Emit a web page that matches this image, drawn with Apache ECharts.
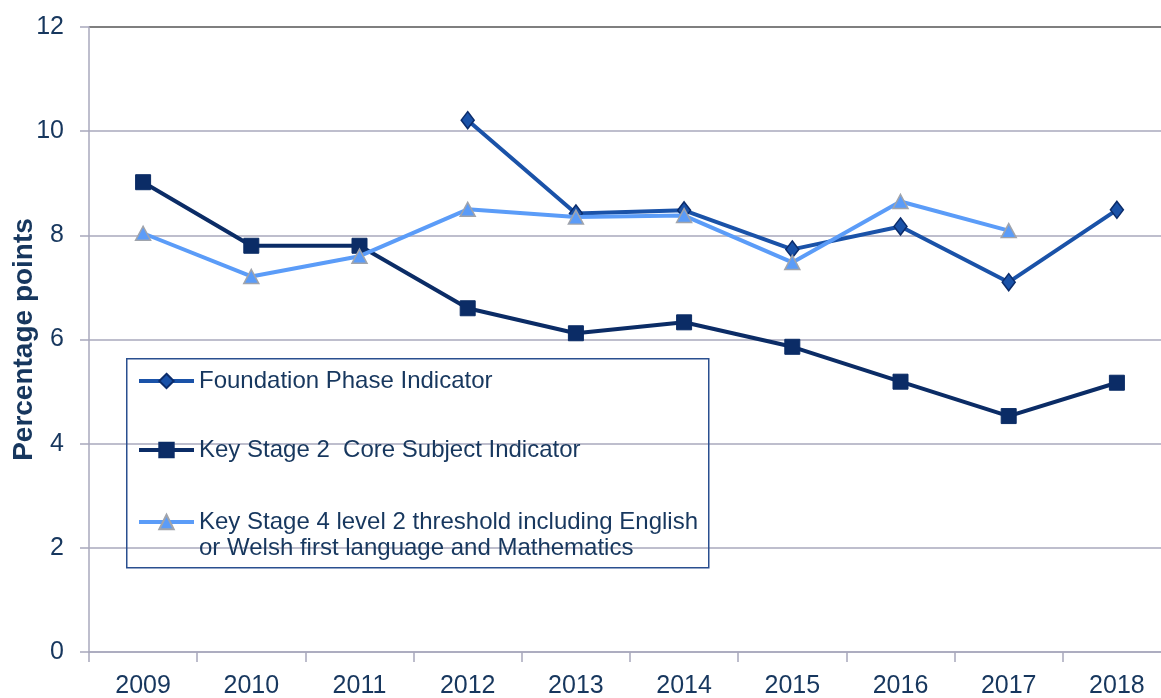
<!DOCTYPE html>
<html>
<head>
<meta charset="utf-8">
<script src="https://cdn.jsdelivr.net/npm/echarts@6/dist/echarts.min.js"></script>
<style>
html,body{margin:0;padding:0;background:#fff;}
#chart{width:1161px;height:698px;}
</style>
</head>
<body>
<div id="chart"></div>
<script>
const years = ['2009','2010','2011','2012','2013','2014','2015','2016','2017','2018'];
const foundationPhase = [null, null, null, 10.21, 8.42, 8.48, 7.73, 8.17, 7.1, 8.49];
const keyStage2 = [9.02, 7.8, 7.8, 6.6, 6.12, 6.33, 5.86, 5.19, 4.53, 5.17];
const keyStage4 = [8.04, 7.21, 7.6, 8.5, 8.35, 8.38, 7.48, 8.65, 8.09, null];
const seriesNames = [
  'Foundation Phase Indicator',
  'Key Stage 2  Core Subject Indicator',
  'Key Stage 4 level 2 threshold including English\nor Welsh first language and Mathematics'
];
const yTicks = [0, 2, 4, 6, 8, 10, 12];

const textColor = '#17375E';
const gridColor = '#A8A8BC';
const font = 'Liberation Sans, Arial, sans-serif';

const chart = echarts.init(document.getElementById('chart'));
chart.setOption({
  backgroundColor: '#ffffff',
  animation: false,
  grid: { left: 89, right: -10, top: 27, bottom: 46, containLabel: false, outerBoundsMode: 'none' },
  xAxis: {
    type: 'category',
    data: years,
    boundaryGap: true,
    axisLine: { lineStyle: { color: gridColor, width: 1.5 } },
    axisTick: { show: true, length: 10, lineStyle: { color: gridColor, width: 1.5 } },
    axisLabel: { color: textColor, fontSize: 25, fontFamily: font, margin: 22 },
    splitLine: { show: false }
  },
  yAxis: {
    type: 'value',
    min: yTicks[0],
    max: yTicks[yTicks.length - 1],
    interval: 2,
    name: 'Percentage points',
    nameLocation: 'middle',
    nameRotate: 90,
    nameGap: 51,
    nameMoveOverlap: false,
    nameTextStyle: { color: textColor, fontSize: 28, fontWeight: 'bold', fontFamily: font },
    axisLine: { show: true, lineStyle: { color: gridColor, width: 1.5 } },
    axisTick: { show: true, length: 9, lineStyle: { color: gridColor, width: 1.5 } },
    axisLabel: { color: textColor, fontSize: 25, fontFamily: font, margin: 25 },
    splitLine: { show: true, lineStyle: { color: [gridColor, gridColor, gridColor, gridColor, gridColor, gridColor, '#555555'], width: 1.5 } }
  },
  legend: {
    orient: 'vertical',
    left: 132,
    top: 340,
    itemGap: 5,
    itemWidth: 55,
    itemHeight: 18,
    selectedMode: false,
    lineStyle: { width: 4 },
    textStyle: { color: textColor, fontSize: 24, fontFamily: font, lineHeight: 26 },
    formatter: function (name) { return name === seriesNames[2] ? ' \n' + name : name; },
    data: [
      { name: seriesNames[0], textStyle: { padding: [23, 0, 23, 0] } },
      { name: seriesNames[1], textStyle: { padding: [15, 0, 15, 0] } },
      { name: seriesNames[2] }
    ]
  },
  graphic: [{
    type: 'rect',
    left: 126, top: 358,
    shape: { width: 582, height: 209 },
    style: { fill: 'rgba(255,255,255,0)', stroke: '#2A4F8F', lineWidth: 1.5 },
    z: 100
  }],
  series: [
    {
      name: seriesNames[0],
      type: 'line',
      data: foundationPhase,
      symbol: 'diamond',
      symbolSize: [13, 17],
      connectNulls: false,
      lineStyle: { color: '#1A52A8', width: 4 },
      itemStyle: { color: '#1A52A8', borderColor: '#0B2C6B', borderWidth: 1.5 },
      z: 2
    },
    {
      name: seriesNames[1],
      type: 'line',
      data: keyStage2,
      symbol: 'rect',
      symbolSize: 15,
      lineStyle: { color: '#0B2C66', width: 4 },
      itemStyle: { color: '#0B2C66', borderColor: '#0B2C66', borderWidth: 1 },
      z: 3
    },
    {
      name: seriesNames[2],
      type: 'line',
      data: keyStage4,
      symbol: 'triangle',
      symbolSize: [15, 14],
      connectNulls: false,
      lineStyle: { color: '#5B9CF8', width: 4 },
      itemStyle: { color: '#5B9CF8', borderColor: '#A0A4AC', borderWidth: 1.5 },
      z: 4
    }
  ]
});
</script>
</body>
</html>
